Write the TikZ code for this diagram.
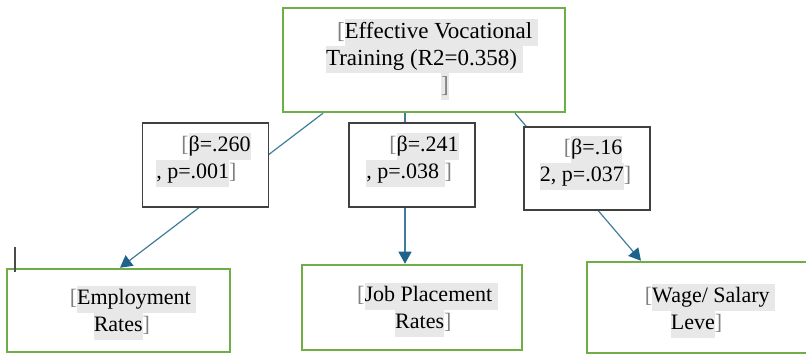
\documentclass[tikz,border=0pt]{standalone}
\usepackage{fontspec}
\setmainfont{Liberation Serif}
\usepackage{xcolor}
\usetikzlibrary{positioning, arrows.meta}

\definecolor{boxgreen}{RGB}{112,173,71}
\definecolor{linkblue}{RGB}{65,125,155}
\definecolor{tipblue}{RGB}{31,99,140}
\definecolor{hlgray}{RGB}{232,232,232}
\definecolor{brgray}{RGB}{128,128,128}

\newcommand{\hlt}[1]{{\setlength{\fboxsep}{0pt}\colorbox{hlgray}{\strut #1}}}
\newcommand{\lbr}{\textcolor{brgray}{[}}
\newcommand{\rbr}{\textcolor{brgray}{]}}

\begin{document}
\begin{tikzpicture}[x=1pt, y=-1pt,
  outbox/.style={draw=boxgreen, line width=2.5pt, fill=white, inner sep=0pt},
  coefbox/.style={draw=black!75, line width=1.5pt, fill=white, inner sep=0pt,
    minimum width=126pt, minimum height=84pt},
  txt/.style={align=left, inner sep=0pt, font=\fontsize{22}{27}\selectfont},
  link/.style={draw=linkblue, line width=1.2pt,
    -{Triangle[width=13pt, length=12pt, color=tipblue]}},
]
  \useasboundingbox (0,0) rectangle (806,355);
  \clip (0,0) rectangle (806,355);

  % outcome boxes
  \node[outbox, minimum width=282pt, minimum height=104pt] (train) at (424,60) {};
  \node[outbox, minimum width=223pt, minimum height=83pt] (emp) at (118.5,310.5) {};
  \node[outbox, minimum width=220pt, minimum height=85pt] (job) at (412,307.5) {};
  \node[outbox, minimum width=225pt, minimum height=91pt] (wage) at (699.5,307.5) {};

  % paths
  \draw[link] ([xshift=-101pt]train.south) -- ([xshift=1.5pt]emp.north);
  \draw[link] ([xshift=-19pt]train.south) -- ([xshift=-7pt]job.north);
  \draw[link] ([xshift=91pt]train.south) -- ([xshift=-58.5pt]wage.north);

  % coefficients
  \node[coefbox] (coefA) at (205.5,165) {};
  \node[coefbox] (coefB) at (412,165) {};
  \node[coefbox, minimum height=83pt] (coefC) at (587,168.5) {};

  % texts
  \node[txt, font=\fontsize{23}{27}\selectfont] (traintxt) at (432,60)
    {\hspace*{11pt}\lbr\hlt{Effective Vocational }\\ \hlt{Training (R2=0.358) }\\ \hspace*{115pt}\hlt{\rbr}};
  \node[txt] (coefAtxt) at (203.5,160) {\hspace*{25pt}\lbr\hlt{β=.260}\\ \hlt{, p=.001}\rbr};
  \node[txt] (coefBtxt) at (412.5,160) {\hspace*{23pt}\lbr\hlt{β=.241}\\ \hlt{, p=.038 }\rbr};
  \node[txt] (coefCtxt) at (585.5,163) {\hspace*{24pt}\lbr\hlt{β=.16}\\ \hlt{2, p=.037}\rbr};
  \node[txt] (emptxt) at (133,313) {\lbr\hlt{Employment }\\ \hspace*{24pt}\hlt{Rates}\rbr};
  \node[txt] (jobtxt) at (427.5,310) {\lbr\hlt{Job Placement }\\ \hspace*{38pt}\hlt{Rates}\rbr};
  \node[txt] (wagetxt) at (710,311) {\lbr\hlt{Wage/ Salary }\\ \hspace*{26pt}\hlt{Leve}\rbr};

  % cursor mark
  \draw[black!70, line width=1.5pt] (15,247) -- (15,272);
\end{tikzpicture}
\end{document}
